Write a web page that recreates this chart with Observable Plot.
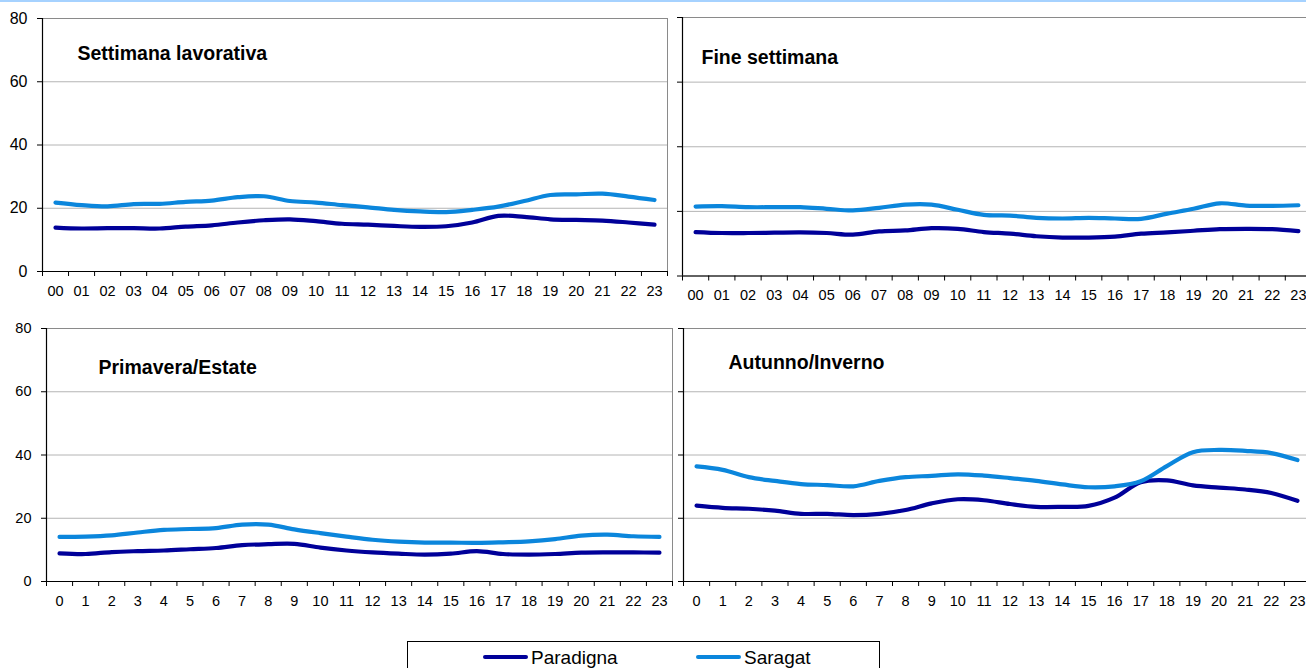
<!DOCTYPE html>
<html>
<head>
<meta charset="utf-8">
<script src="https://cdn.jsdelivr.net/npm/d3@7"></script>
<script src="https://cdn.jsdelivr.net/npm/@observablehq/plot@0.6"></script>
<style>
  html, body { margin: 0; padding: 0; background: #fff; }
  #root { position: relative; width: 1306px; height: 668px; overflow: hidden; font-family: "Liberation Sans", Arial, sans-serif; }
  .topline { position: absolute; left: 0; top: 0; width: 1306px; height: 2px; background: #a6d2ff; }
  .panel { position: absolute; }
  .legend { position: absolute; left: 407px; top: 641px; width: 473px; height: 40px; border: 1px solid #000; box-sizing: border-box; }
  .legend .sw { position: absolute; height: 4px; border-radius: 2px; top: 13px; width: 45px; }
  .legend .lb { position: absolute; top: 6px; font-size: 19px; line-height: 19px; color: #000; white-space: nowrap; }
</style>
</head>
<body>
<div id="root">
  <div class="topline"></div>
</div>
<script>
// ---- data ----
const seriesNames = ["Paradigna", "Saragat"];
const seriesColors = ["#000099", "#0b86dc"];
const hourLabels2 = ["00","01","02","03","04","05","06","07","08","09","10","11","12","13","14","15","16","17","18","19","20","21","22","23"];
const hourLabels1 = ["0","1","2","3","4","5","6","7","8","9","10","11","12","13","14","15","16","17","18","19","20","21","22","23"];
const yTicks = [0, 20, 40, 60, 80];
const gridTicks = [20, 40, 60];
const panelTitles = ["Settimana lavorativa", "Fine settimana", "Primavera/Estate", "Autunno/Inverno"];

const paradignaLavorativa = [13.9,13.6,13.7,13.7,13.6,14.2,14.6,15.5,16.2,16.5,15.9,15.1,14.8,14.4,14.1,14.3,15.5,17.6,17.3,16.5,16.3,16.1,15.5,14.8];
const saragatLavorativa   = [21.8,21.0,20.6,21.3,21.4,22.0,22.4,23.5,23.8,22.3,21.8,21.0,20.3,19.5,19.0,18.8,19.5,20.5,22.3,24.2,24.4,24.6,23.7,22.6];

const paradignaFine = [13.6,13.3,13.3,13.4,13.5,13.3,12.8,13.8,14.1,14.8,14.6,13.6,13.1,12.3,11.9,11.9,12.2,13.1,13.5,14.0,14.5,14.6,14.5,13.9];
const saragatFine   = [21.5,21.6,21.3,21.3,21.3,20.8,20.3,21.1,22.1,22.1,20.5,18.9,18.7,18.0,17.8,18.0,17.8,17.7,19.3,20.8,22.5,21.8,21.7,21.9];

const paradignaPrimavera = [8.9,8.7,9.3,9.6,9.8,10.2,10.6,11.5,11.8,11.9,10.7,9.8,9.2,8.8,8.5,8.8,9.6,8.7,8.5,8.7,9.1,9.2,9.2,9.1];
const saragatPrimavera   = [14.1,14.2,14.6,15.5,16.3,16.6,16.9,18.0,18.0,16.5,15.3,14.2,13.2,12.6,12.3,12.3,12.2,12.4,12.7,13.4,14.5,14.8,14.3,14.1];

const paradignaAutunno = [24.0,23.3,23.0,22.4,21.4,21.4,21.0,21.4,22.6,24.7,26.0,25.7,24.5,23.6,23.6,23.9,26.5,31.4,32.0,30.4,29.7,29.1,28.0,25.5];
const saragatAutunno   = [36.4,35.3,33.0,31.8,30.8,30.5,30.1,31.8,33.0,33.4,33.9,33.5,32.7,31.8,30.7,29.8,30.1,31.7,36.5,40.9,41.6,41.3,40.6,38.4];

// ---- drawing ----
const root = document.getElementById("root");

function panel(opts) {
  const { fx, fy, fw, fh, labels, title, tdx, tdy, p, s, showY, yFont } = opts;
  const mL = 44, mR = 4, mT = 6, mB = 40;
  const rows = [];
  labels.forEach((lab, i) => {
    rows.push({ hour: i, series: seriesNames[0], value: p[i] });
    rows.push({ hour: i, series: seriesNames[1], value: s[i] });
  });
  const xDomain = [-0.5, labels.length - 0.5];
  const idx = labels.map((_, i) => i);
  const bounds = d3.range(labels.length + 1).map(i => i - 0.5);
  const chart = Plot.plot({
    width: mL + fw + mR,
    height: mT + fh + mB,
    marginLeft: mL, marginRight: mR, marginTop: mT, marginBottom: mB,
    style: { background: "transparent", fontFamily: "Liberation Sans, Arial, sans-serif", overflow: "visible", maxWidth: "none", color: "#000" },
    x: { domain: xDomain },
    y: { domain: [0, 80] },
    color: { domain: seriesNames, range: seriesColors },
    marks: [
      Plot.frame({ stroke: "#8a8a8a" }),
      Plot.gridY({ ticks: gridTicks, stroke: "#b4b4b4", strokeOpacity: 1 }),
      Plot.line(rows, { x: "hour", y: "value", z: "series", stroke: "series", curve: "catmull-rom", strokeWidth: 4.2, strokeLinecap: "round", strokeLinejoin: "round" }),
      Plot.ruleX([xDomain[0]], { stroke: "#000", strokeWidth: 1.2 }),
      Plot.ruleY([0], { stroke: "#000", strokeWidth: 1.2 }),
      Plot.axisY({ ticks: yTicks, tickSize: 5, tickPadding: 10, fontSize: yFont, label: null, tickFormat: showY ? (d => String(d)) : (() => "") }),
      Plot.axisX({ ticks: idx, tickSize: 0, tickPadding: 14, fontSize: 14.5, label: null, tickFormat: i => labels[i] }),
      Plot.axisX({ ticks: bounds, tickSize: 5, label: null, tickFormat: () => "" }),
      Plot.text([title], { text: d => d, frameAnchor: "top-left", dx: tdx, dy: tdy, textAnchor: "start", lineAnchor: "middle", fontWeight: "bold", fontSize: 19.5, fill: "#000" })
    ]
  });
  const div = document.createElement("div");
  div.className = "panel";
  div.style.left = (fx - mL) + "px";
  div.style.top = (fy - mT) + "px";
  div.appendChild(chart);
  root.appendChild(div);
}

panel({ fx: 42, fy: 18, fw: 625, fh: 253, labels: hourLabels2, title: panelTitles[0], tdx: 35, tdy: 35, p: paradignaLavorativa, s: saragatLavorativa, showY: true, yFont: 16 });
panel({ fx: 682, fy: 17, fw: 629, fh: 258.5, labels: hourLabels2, title: panelTitles[1], tdx: 19, tdy: 40, p: paradignaFine, s: saragatFine, showY: false, yFont: 16 });
panel({ fx: 46, fy: 328, fw: 626, fh: 253, labels: hourLabels1, title: panelTitles[2], tdx: 52, tdy: 39, p: paradignaPrimavera, s: saragatPrimavera, showY: true, yFont: 14.5 });
panel({ fx: 683, fy: 328, fw: 627, fh: 253, labels: hourLabels1, title: panelTitles[3], tdx: 45, tdy: 34, p: paradignaAutunno, s: saragatAutunno, showY: false, yFont: 14.5 });

// legend
const legend = document.createElement("div");
legend.className = "legend";
const legendPos = [{ sw: 75, lb: 123 }, { sw: 288, lb: 336 }];
seriesNames.forEach((name, i) => {
  const sw = document.createElement("span");
  sw.className = "sw";
  sw.style.left = legendPos[i].sw + "px";
  sw.style.background = seriesColors[i];
  const lb = document.createElement("span");
  lb.className = "lb";
  lb.style.left = legendPos[i].lb + "px";
  lb.textContent = name;
  legend.appendChild(sw);
  legend.appendChild(lb);
});
root.appendChild(legend);
</script>
</body>
</html>
